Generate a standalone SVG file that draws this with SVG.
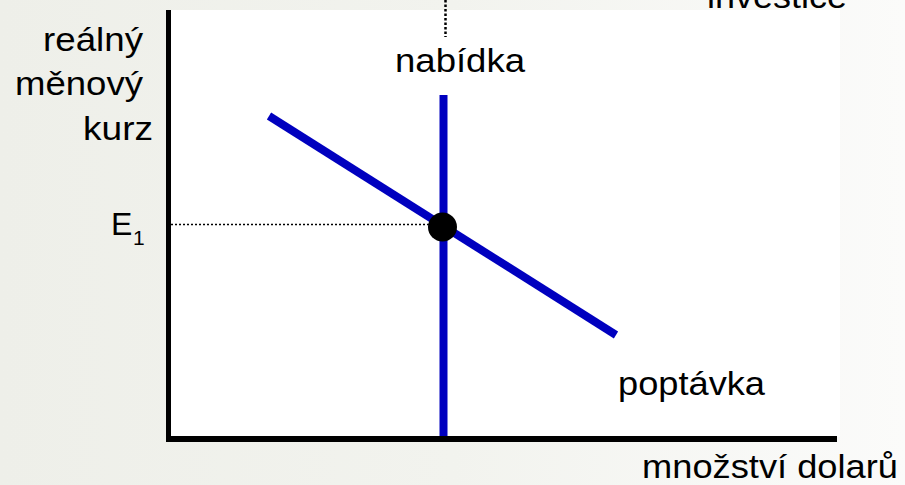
<svg xmlns="http://www.w3.org/2000/svg" width="905" height="485" viewBox="0 0 905 485">
  <defs>
    <linearGradient id="bg" x1="0" y1="0" x2="1" y2="0">
      <stop offset="0" stop-color="#eeefe9"/>
      <stop offset="0.5" stop-color="#f2f3ee"/>
      <stop offset="1" stop-color="#fbfbfa"/>
    </linearGradient>
  </defs>
  <style>
    text { font-family: "Liberation Sans", Arial, sans-serif; fill: #000; }
    .lbl { font-size: 33px; }
    .axis { stroke: #000; fill: none; }
    .curve { stroke: #0000bf; stroke-width: 8; fill: none; }
    .dot { stroke: #000; stroke-width: 1.5; stroke-dasharray: 2 2; fill: none; }
    .dotv { stroke: #000; stroke-width: 2.5; stroke-dasharray: 2.5 2; fill: none; }
  </style>
  <rect x="0" y="0" width="905" height="485" fill="url(#bg)"/>
  <g id="investice-label">
    <text class="lbl" x="707" y="8" textLength="140" lengthAdjust="spacingAndGlyphs">investice</text>
  </g>
  <rect x="171" y="10" width="669" height="427" fill="#fff"/>
  <g id="connectors">
    <line class="dotv" x1="445.5" y1="0" x2="445.5" y2="37"/>
    <line class="dot" x1="171" y1="224.5" x2="430" y2="224.5"/>
    <line class="curve" x1="269" y1="116" x2="616" y2="335"/>
    <line class="curve" x1="443.5" y1="95" x2="443.5" y2="437"/>
  </g>
  <g id="axes">
    <line class="axis" x1="168.5" y1="10" x2="168.5" y2="437" stroke-width="5"/>
    <line class="axis" x1="166" y1="439" x2="837" y2="439" stroke-width="6"/>
  </g>
  <g id="equilibrium">
    <circle cx="442.5" cy="227" r="14.5" fill="#000"/>
  </g>
  <g id="y-label">
    <text class="lbl" x="43" y="51" textLength="100" lengthAdjust="spacingAndGlyphs">reálný</text>
    <text class="lbl" x="15" y="95" textLength="128" lengthAdjust="spacingAndGlyphs">měnový</text>
    <text class="lbl" x="83" y="140" textLength="70" lengthAdjust="spacingAndGlyphs">kurz</text>
  </g>
  <g id="e1-label">
    <text x="111" y="235" font-size="32">E<tspan font-size="21" x="133" y="245">1</tspan></text>
  </g>
  <g id="supply-label">
    <text class="lbl" x="395" y="72" textLength="130" lengthAdjust="spacingAndGlyphs">nabídka</text>
  </g>
  <g id="demand-label">
    <text class="lbl" x="618" y="395" textLength="147" lengthAdjust="spacingAndGlyphs">poptávka</text>
  </g>
  <g id="x-label">
    <text class="lbl" x="642" y="478" textLength="256" lengthAdjust="spacingAndGlyphs">množství dolarů</text>
  </g>
</svg>
